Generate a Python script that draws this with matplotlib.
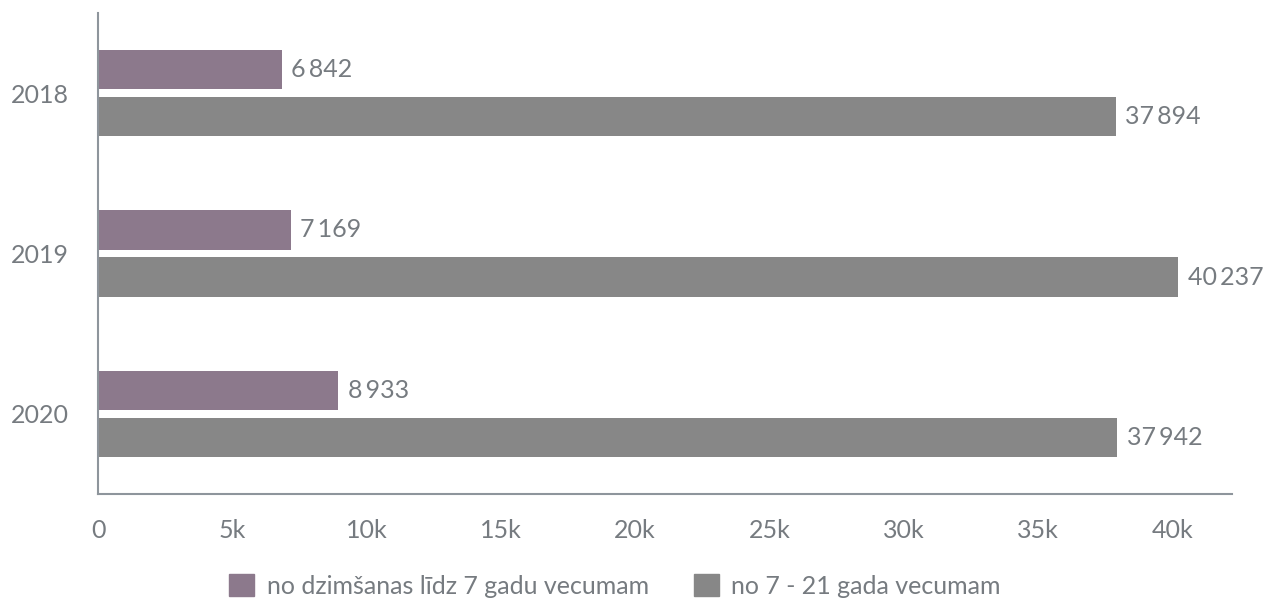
import matplotlib.pyplot as plt
import numpy as np
from matplotlib.patches import Patch

years = ["2018", "2019", "2020"]
under7 = [6842, 7169, 8933]
age7_21 = [37894, 40237, 37942]
series_names = ["no dzimšanas līdz 7 gadu vecumam", "no 7 - 21 gada vecumam"]
x_ticks = [0, 5000, 10000, 15000, 20000, 25000, 30000, 35000, 40000]
x_labels = ["0", "5k", "10k", "15k", "20k", "25k", "30k", "35k", "40k"]

PURPLE = "#8c798c"
GRAY = "#878787"
TEXT = "#767b80"
SPINE = "#8e959c"
FS = 18

plt.rcParams["font.family"] = ["Lato", "DejaVu Sans"]

fig = plt.figure(figsize=(12.66, 5.99), dpi=100)
ax = fig.add_axes([98 / 1266, 105 / 599, (1232 - 98) / 1266, (494 - 13) / 599])

y = np.arange(len(years))
h = 0.245
ax.barh(y - 0.147, under7, height=h, color=PURPLE)
ax.barh(y + 0.147, age7_21, height=h, color=GRAY)

def fmt(v):
    return f"{v:,}".replace(",", "\u2009")

for i in range(len(years)):
    ax.annotate(fmt(under7[i]), (under7[i], y[i] - 0.147), xytext=(7, 0),
                textcoords="offset points", va="center", ha="left",
                fontsize=FS, color=TEXT)
    ax.annotate(fmt(age7_21[i]), (age7_21[i], y[i] + 0.147), xytext=(7, 0),
                textcoords="offset points", va="center", ha="left",
                fontsize=FS, color=TEXT)

ax.set_ylim(2.5, -0.5)
ax.set_xlim(0, 42230)
ax.set_yticks(y)
ax.set_yticklabels(years)
ax.set_xticks(x_ticks)
ax.set_xticklabels(x_labels)
ax.tick_params(axis="both", length=0, labelsize=FS, labelcolor=TEXT)
ax.tick_params(axis="x", pad=18)
ax.tick_params(axis="y", pad=21)

for side in ["top", "right"]:
    ax.spines[side].set_visible(False)
for side in ["left", "bottom"]:
    ax.spines[side].set_color(SPINE)
    ax.spines[side].set_linewidth(1.5)

handles = [Patch(color=PURPLE), Patch(color=GRAY)]
fig.legend(handles, series_names, loc="center", bbox_to_anchor=(615 / 1266, 0.022),
           ncol=2, frameon=False, fontsize=FS, labelcolor=TEXT,
           handlelength=1.0, handleheight=1.0, handletextpad=0.5, columnspacing=1.8,
           borderpad=0)

fig.savefig("out.png", dpi=100)
